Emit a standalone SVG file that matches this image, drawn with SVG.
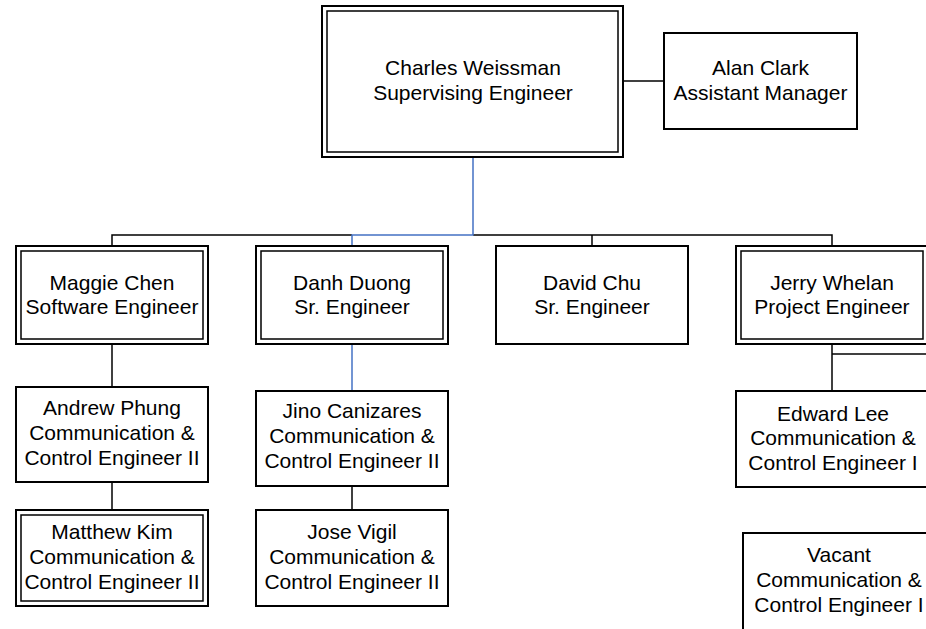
<svg xmlns="http://www.w3.org/2000/svg" width="926" height="629" viewBox="0 0 926 629">
<style>
  .box { fill: #fff; stroke: #000; stroke-width: 2; }
  .inner { fill: none; stroke: #000; stroke-width: 1.5; }
  .lbl { font-family: "Liberation Sans", Arial, sans-serif; font-size: 21px; fill: #000; text-anchor: middle; }
  .c { fill: none; stroke: #000; stroke-width: 1.5; }
  .cb { fill: none; stroke: #4472C4; stroke-width: 1.5; }
</style>
<rect width="926" height="629" fill="#fff"/>
<g id="connectors">
  <path class="c" d="M623,81 H664"/>
  <path class="c" d="M112,246 V235 H352"/>
  <path class="c" d="M473,235 H832 V246"/>
  <path class="c" d="M592,235 V246"/>
  <path class="c" d="M112,344 V387"/>
  <path class="c" d="M112,482 V510"/>
  <path class="c" d="M352,486 V510"/>
  <path class="c" d="M832,344 V391"/>
  <path class="c" d="M832,354 H930"/>
  <path class="cb" d="M473,157 V235 H352 V246"/>
  <path class="cb" d="M352,344 V391"/>
</g>
<g id="charles">
  <rect class="box" x="322" y="6" width="301" height="151"/>
  <rect class="inner" x="327" y="11" width="291" height="141"/>
  <text class="lbl" x="473" y="75">Charles Weissman</text>
  <text class="lbl" x="473" y="100">Supervising Engineer</text>
</g>
<g id="alan">
  <rect class="box" x="664" y="33" width="193" height="96"/>
  <text class="lbl" x="760.5" y="75">Alan Clark</text>
  <text class="lbl" x="760.5" y="100">Assistant Manager</text>
</g>
<g id="maggie">
  <rect class="box" x="16" y="246" width="192" height="98"/>
  <rect class="inner" x="21" y="251" width="182" height="88"/>
  <text class="lbl" x="112" y="290">Maggie Chen</text>
  <text class="lbl" x="112" y="314">Software Engineer</text>
</g>
<g id="danh">
  <rect class="box" x="256" y="246" width="192" height="98"/>
  <rect class="inner" x="261" y="251" width="182" height="88"/>
  <text class="lbl" x="352" y="290">Danh Duong</text>
  <text class="lbl" x="352" y="314">Sr. Engineer</text>
</g>
<g id="david">
  <rect class="box" x="496" y="246" width="192" height="98"/>
  <text class="lbl" x="592" y="290">David Chu</text>
  <text class="lbl" x="592" y="314">Sr. Engineer</text>
</g>
<g id="jerry">
  <rect class="box" x="736" y="246" width="192" height="98"/>
  <rect class="inner" x="741" y="251" width="182" height="88"/>
  <text class="lbl" x="832" y="290">Jerry Whelan</text>
  <text class="lbl" x="832" y="314">Project Engineer</text>
</g>
<g id="andrew">
  <rect class="box" x="16" y="387" width="192" height="95"/>
  <text class="lbl" x="112" y="415">Andrew Phung</text>
  <text class="lbl" x="112" y="440">Communication &amp;</text>
  <text class="lbl" x="112" y="465">Control Engineer II</text>
</g>
<g id="jino">
  <rect class="box" x="256" y="391" width="192" height="95"/>
  <text class="lbl" x="352" y="418">Jino Canizares</text>
  <text class="lbl" x="352" y="443">Communication &amp;</text>
  <text class="lbl" x="352" y="468">Control Engineer II</text>
</g>
<g id="matthew">
  <rect class="box" x="16" y="510" width="192" height="96"/>
  <rect class="inner" x="21" y="515" width="182" height="86"/>
  <text class="lbl" x="112" y="539">Matthew Kim</text>
  <text class="lbl" x="112" y="564">Communication &amp;</text>
  <text class="lbl" x="112" y="589">Control Engineer II</text>
</g>
<g id="jose">
  <rect class="box" x="256" y="510" width="192" height="96"/>
  <text class="lbl" x="352" y="539">Jose Vigil</text>
  <text class="lbl" x="352" y="564">Communication &amp;</text>
  <text class="lbl" x="352" y="589">Control Engineer II</text>
</g>
<g id="edward">
  <rect class="box" x="736" y="391" width="192" height="96"/>
  <text class="lbl" x="833" y="421">Edward Lee</text>
  <text class="lbl" x="833" y="445">Communication &amp;</text>
  <text class="lbl" x="833" y="470">Control Engineer I</text>
</g>
<g id="vacant">
  <rect class="box" x="743" y="533" width="192" height="110"/>
  <text class="lbl" x="839" y="562">Vacant</text>
  <text class="lbl" x="839" y="587">Communication &amp;</text>
  <text class="lbl" x="839" y="612">Control Engineer I</text>
</g>
</svg>
